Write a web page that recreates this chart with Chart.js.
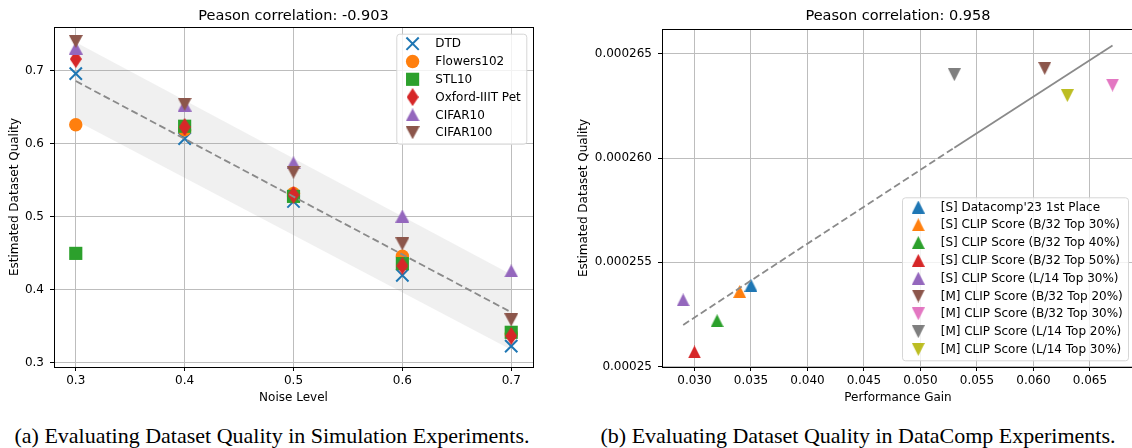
<!DOCTYPE html>
<html>
<head>
<meta charset="utf-8">
<script src="https://cdn.jsdelivr.net/npm/chart.js@4.4.0/dist/chart.umd.min.js"></script>
<style>
  html, body { margin:0; padding:0; background:#fff; width:1132px; height:448px; overflow:hidden; position:relative; }
  canvas { position:absolute; top:0; }
  #c1 { left:0; }
  #c2 { left:560px; }
  .cap { position:absolute; top:423px; font-family:"Liberation Serif","Times New Roman",serif; font-size:22px; color:#000; white-space:nowrap; transform:translateX(-50%); }
</style>
</head>
<body>
<canvas id="c1" width="560" height="415"></canvas>
<canvas id="c2" width="580" height="415"></canvas>
<div class="cap" style="left:272px">(a) Evaluating Dataset Quality in Simulation Experiments.</div>
<div class="cap" style="left:858px">(b) Evaluating Dataset Quality in DataComp Experiments.</div>
<script>
// ---------- Left panel data ----------
const noiseLevels = [0.3, 0.4, 0.5, 0.6, 0.7];
const dtd       = [0.696, 0.607, 0.521, 0.420, 0.323];
const flowers   = [0.626, 0.619, 0.532, 0.446, 0.340];
const stl10     = [0.450, 0.624, 0.528, 0.436, 0.342];
const oxford    = [0.716, 0.623, 0.530, 0.433, 0.337];
const cifar10   = [0.731, 0.653, 0.574, 0.501, 0.426];
const cifar100  = [0.740, 0.654, 0.561, 0.463, 0.359];
const leftSeriesNames = ['DTD', 'Flowers102', 'STL10', 'Oxford-IIIT Pet', 'CIFAR10', 'CIFAR100'];
const fitX = [0.3, 0.7];
const fitY = [0.6858, 0.3694];
const bandUpper = [0.739, 0.421];
const bandLower = [0.632, 0.318];
const leftXTicks = [0.3, 0.4, 0.5, 0.6, 0.7];
const leftYTicks = [0.3, 0.4, 0.5, 0.6, 0.7];
const leftTitle = 'Peason correlation: -0.903';

// ---------- Right panel data ----------
const rightNames = ["[S] Datacomp'23 1st Place", '[S] CLIP Score (B/32 Top 30%)', '[S] CLIP Score (B/32 Top 40%)',
  '[S] CLIP Score (B/32 Top 50%)', '[S] CLIP Score (L/14 Top 30%)', '[M] CLIP Score (B/32 Top 20%)',
  '[M] CLIP Score (B/32 Top 30%)', '[M] CLIP Score (L/14 Top 20%)', '[M] CLIP Score (L/14 Top 30%)'];
const perfGain = [0.035, 0.034, 0.032, 0.030, 0.029, 0.061, 0.067, 0.053, 0.063];
const quality  = [0.0002539, 0.0002536, 0.0002522, 0.0002507, 0.0002532, 0.0002643, 0.0002635, 0.0002640, 0.0002630];
const fitDashX = [0.029, 0.053];
const fitDashY = [0.0002520, 0.0002605];
const fitSolidX = [0.053, 0.067];
const fitSolidY = [0.0002605, 0.0002654];
const rightXTicks = [0.030, 0.035, 0.040, 0.045, 0.050, 0.055, 0.060, 0.065];
const rightXLabels = ['0.030', '0.035', '0.040', '0.045', '0.050', '0.055', '0.060', '0.065'];
const rightYTicks = [0.00025, 0.000255, 0.00026, 0.000265];
const rightYLabels = ['0.00025', '0.000255', '0.000260', '0.000265'];
const rightTitle = 'Peason correlation: 0.958';

// ---------- styling ----------
const C = {blue:'#1f77b4', orange:'#ff7f0e', green:'#2ca02c', red:'#d62728', purple:'#9467bd',
  brown:'#8c564b', pink:'#e377c2', grey:'#7f7f7f', olive:'#bcbd22'};
const FONT = "'DejaVu Sans', sans-serif";
Chart.defaults.font.family = FONT;
Chart.defaults.font.size = 12;
Chart.defaults.color = '#000';

function shapeCanvas(kind, color, w, h) {
  const c = document.createElement('canvas');
  c.width = w; c.height = h;
  const g = c.getContext('2d');
  g.fillStyle = color;
  g.beginPath();
  if (kind === 'up') { g.moveTo(w/2, 0); g.lineTo(w, h); g.lineTo(0, h); }
  else if (kind === 'down') { g.moveTo(0, 0); g.lineTo(w, 0); g.lineTo(w/2, h); }
  else if (kind === 'diamond') { g.moveTo(w/2, 0); g.lineTo(w, h/2); g.lineTo(w/2, h); g.lineTo(0, h/2); }
  g.closePath(); g.fill();
  return c;
}

// marker specs
const leftMarkers = [
  {style:'crossRot', radius:8.7, color:C.blue, bw:2},
  {style:'circle', radius:6.7, color:C.orange, bw:0},
  {style:'rect', radius:9.3, color:C.green, bw:0},
  {style:shapeCanvas('diamond', C.red, 12, 18), radius:6, color:C.red, bw:0},
  {style:shapeCanvas('up', C.purple, 14, 13), radius:6, color:C.purple, bw:0},
  {style:shapeCanvas('down', C.brown, 14, 13), radius:6, color:C.brown, bw:0},
];
const rightColors = [C.blue, C.orange, C.green, C.red, C.purple, C.brown, C.pink, C.grey, C.olive];
const rightMarkers = rightColors.map((col, i) => ({
  style: shapeCanvas(i < 5 ? 'up' : 'down', col, 13, 13), radius:6, color:col, bw:0
}));

function drawMarker(ctx, m, x, y) {
  ctx.save();
  if (typeof m.style !== 'string') {
    ctx.drawImage(m.style, x - m.style.width/2, y - m.style.height/2);
  } else if (m.style === 'circle') {
    ctx.fillStyle = m.color; ctx.beginPath(); ctx.arc(x, y, m.radius, 0, Math.PI*2); ctx.fill();
  } else if (m.style === 'rect') {
    const s = Math.SQRT1_2 * m.radius; ctx.fillStyle = m.color; ctx.fillRect(x - s, y - s, 2*s, 2*s);
  } else if (m.style === 'crossRot') {
    const o = Math.SQRT1_2 * m.radius; ctx.strokeStyle = m.color; ctx.lineWidth = m.bw;
    ctx.beginPath(); ctx.moveTo(x-o, y-o); ctx.lineTo(x+o, y+o); ctx.moveTo(x+o, y-o); ctx.lineTo(x-o, y+o); ctx.stroke();
  }
  ctx.restore();
}

function roundRect(ctx, x, y, w, h, r) {
  ctx.beginPath();
  ctx.moveTo(x + r, y); ctx.lineTo(x + w - r, y); ctx.arcTo(x + w, y, x + w, y + r, r);
  ctx.lineTo(x + w, y + h - r); ctx.arcTo(x + w, y + h, x + w - r, y + h, r);
  ctx.lineTo(x + r, y + h); ctx.arcTo(x, y + h, x, y + h - r, r);
  ctx.lineTo(x, y + r); ctx.arcTo(x, y, x + r, y, r); ctx.closePath();
}

function decorPlugin(cfg) {
  return {
    id: 'decor',
    afterDatasetsDraw(chart) {
      const ctx = chart.ctx, a = chart.chartArea;
      // spines
      ctx.save();
      ctx.strokeStyle = '#000'; ctx.lineWidth = 1;
      ctx.strokeRect(Math.round(a.left) + 0.5, Math.round(a.top) + 0.5, Math.round(a.right - a.left), Math.round(a.bottom - a.top));
      ctx.restore();
      // legend
      const L = cfg.legend;
      const bx = L.right ? a.right - L.right - L.w : a.left + L.left;
      const by = L.top !== undefined ? a.top + L.top : a.bottom - L.bottom - L.h;
      ctx.save();
      roundRect(ctx, bx + 0.5, by + 0.5, L.w, L.h, 3);
      ctx.fillStyle = 'rgba(255,255,255,0.8)'; ctx.fill();
      ctx.strokeStyle = '#d6d6d6'; ctx.lineWidth = 1; ctx.stroke();
      ctx.font = '12px ' + FONT; ctx.fillStyle = '#000'; ctx.textBaseline = 'middle'; ctx.textAlign = 'left';
      L.names.forEach((n, i) => {
        const y = by + L.first + i * L.step;
        drawMarker(ctx, L.markers[i], bx + L.mx, y);
        ctx.fillText(n, bx + L.tx, y + 0.5);
      });
      ctx.restore();
      // title
      ctx.save();
      ctx.font = '14.5px ' + FONT; ctx.fillStyle = '#000'; ctx.textAlign = 'center'; ctx.textBaseline = 'alphabetic';
      ctx.fillText(cfg.title, (a.left + a.right) / 2, 20);
      ctx.restore();
    }
  };
}

function axisCfg(opts) {
  return {
    type: 'linear', min: opts.min, max: opts.max,
    afterBuildTicks: s => { s.ticks = opts.ticks.map(v => ({value: v})); },
    afterFit: s => { if (opts.width !== undefined) s.width = opts.width; if (opts.height !== undefined) s.height = opts.height; },
    ticks: { padding: opts.pad, color:'#000', font:{size:12, family:FONT}, callback: (v, i) => opts.labels[i] },
    grid: { color:'#bdbdbd', lineWidth:1, tickColor:'#000', tickLength:4, tickWidth:1, drawOnChartArea:true },
    border: { display:false },
    title: { display:true, text: opts.title, color:'#000', font:{size:12, family:FONT}, padding: opts.titlePad }
  };
}

// ---------- Left chart ----------
const leftData = [dtd, flowers, stl10, oxford, cifar10, cifar100];
const leftDatasets = [
  { label:'band-lower', data: fitX.map((x, i) => ({x, y: bandLower[i]})), showLine:true, pointRadius:0, borderWidth:0, borderColor:'rgba(0,0,0,0)', fill:false, order:20 },
  { label:'band-upper', data: fitX.map((x, i) => ({x, y: bandUpper[i]})), showLine:true, pointRadius:0, borderWidth:0, borderColor:'rgba(0,0,0,0)', backgroundColor:'rgba(128,128,128,0.12)', fill:'-1', order:19 },
];
leftData.forEach((arr, k) => {
  const m = leftMarkers[k];
  leftDatasets.push({
    label: leftSeriesNames[k],
    data: noiseLevels.map((x, i) => ({x, y: arr[i]})),
    pointStyle: m.style, pointRadius: m.radius, pointBackgroundColor: m.color, pointBorderColor: m.color,
    pointBorderWidth: m.bw, showLine:false, order: 10 - k
  });
});
leftDatasets.push({ label:'fit', data: fitX.map((x, i) => ({x, y: fitY[i]})), showLine:true, pointRadius:0,
  borderColor:'#8a8a8a', borderWidth:1.8, borderDash:[7,3.5], fill:false, order:0 });

new Chart(document.getElementById('c1'), {
  type: 'scatter',
  data: { datasets: leftDatasets },
  options: {
    responsive:false, animation:false, devicePixelRatio:1, events:[],
    layout: { padding: { left:0, right:27, top:27, bottom:0 } },
    plugins: { legend:{display:false}, tooltip:{enabled:false}, title:{display:false} },
    scales: {
      x: axisCfg({min:0.28, max:0.72, ticks:leftXTicks, labels:leftXTicks.map(v => v.toFixed(1)), height:48, pad:3, title:'Noise Level', titlePad:{top:0, bottom:9.8}}),
      y: axisCfg({min:0.2945, max:0.7598, ticks:leftYTicks, labels:leftYTicks.map(v => v.toFixed(1)), width:54, pad:6, title:'Estimated Dataset Quality', titlePad:{top:7.6, bottom:0}})
    }
  },
  plugins: [decorPlugin({ title:leftTitle, legend:{ names:leftSeriesNames, markers:leftMarkers, right:6.7, top:6.7, w:130, h:110, first:10, step:17.8, mx:16.3, tx:39 } })]
});

// ---------- Right chart ----------
const rightDatasets = rightNames.map((n, k) => ({
  label: n, data: [{x: perfGain[k], y: quality[k]}],
  pointStyle: rightMarkers[k].style, pointRadius: 6, pointBackgroundColor: rightColors[k], pointBorderWidth:0,
  showLine:false, order: 20 - k
}));
rightDatasets.push({ label:'fit-dashed', data: fitDashX.map((x, i) => ({x, y: fitDashY[i]})), showLine:true, pointRadius:0,
  borderColor:'#8a8a8a', borderWidth:1.8, borderDash:[7,3.5], fill:false, order:0 });
rightDatasets.push({ label:'fit-solid', data: fitSolidX.map((x, i) => ({x, y: fitSolidY[i]})), showLine:true, pointRadius:0,
  borderColor:'#8a8a8a', borderWidth:1.8, fill:false, order:0 });

new Chart(document.getElementById('c2'), {
  type: 'scatter',
  data: { datasets: rightDatasets },
  options: {
    responsive:false, animation:false, devicePixelRatio:1, events:[],
    layout: { padding: { left:0, right:5, top:29, bottom:0 } },
    plugins: { legend:{display:false}, tooltip:{enabled:false}, title:{display:false} },
    scales: {
      x: axisCfg({min:0.027125, max:0.0689, ticks:rightXTicks, labels:rightXLabels, height:48, pad:3, title:'Performance Gain', titlePad:{top:0, bottom:9.8}}),
      y: axisCfg({min:0.00024998, max:0.00026619, ticks:rightYTicks, labels:rightYLabels, width:102, pad:6, title:'Estimated Dataset Quality', titlePad:{top:16.5, bottom:0}})
    }
  },
  plugins: [decorPlugin({ title:rightTitle, legend:{ names:rightNames, markers:rightMarkers, right:6, bottom:6.7, w:226, h:163, first:9.7, step:17.8, mx:16.3, tx:38.7 } })]
});
</script>
</body>
</html>
